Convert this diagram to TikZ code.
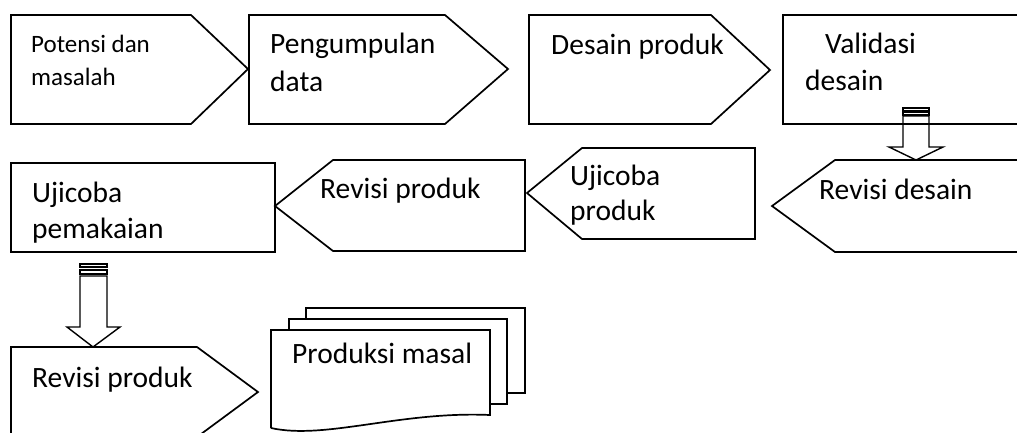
\documentclass[tikz,border=0pt]{standalone}
\usepackage{fontspec}
\setmainfont{Carlito}
\begin{document}
\begin{tikzpicture}[x=1pt,y=-1pt,
  shp/.style={draw=black, line width=1.7pt, line join=miter},
  arr/.style={draw=black, line width=1.4pt, line join=miter},
  lbl/.style={inner sep=0pt, anchor=base west, font=\fontsize{29.5}{34}\selectfont},
  lblsm/.style={inner sep=0pt, anchor=base west, font=\fontsize{25}{30}\selectfont}]
\useasboundingbox (0,0) rectangle (1017,432);
\begin{scope}
\clip (0,0) rectangle (1017,432);
% row 1
\draw[shp] (11,15) -- (191,15) -- (248,69) -- (191,124) -- (11,124) -- cycle;
\draw[shp] (249,15) -- (445,15) -- (508,69) -- (445,124) -- (249,124) -- cycle;
\draw[shp] (529,15) -- (711,15) -- (770,70) -- (711,124) -- (529,124) -- cycle;
\draw[shp] (1030,15) -- (783,15) -- (783,124) -- (1030,124);
% row 2
\draw[shp] (11,163) rectangle (275,252);
\draw[shp] (275,206) -- (333,160) -- (525,160) -- (525,251) -- (333,251) -- cycle;
\draw[shp] (527,193) -- (582,148) -- (755,148) -- (755,239) -- (582,239) -- cycle;
\draw[shp] (1030,160) -- (835,160) -- (772,206) -- (835,252) -- (1030,252);
% row 3
\draw[shp] (11,445) -- (11,347) -- (197,347) -- (258,392) -- (197,437) -- (11,437);
\draw[shp] (306,319) -- (306,308) -- (525,308) -- (525,393) -- (507,393);
\draw[shp] (289,330) -- (289,319) -- (507,319) -- (507,404) -- (490,404);
\draw[shp] (271,428) -- (271,330) -- (490,330) -- (490,415)
  .. controls (400,411) and (325,440) .. (271,428);
% block arrows
\draw[arr] (903,108) rectangle (929,111);
\draw[arr] (903,112.5) rectangle (929,115);
\draw[arr] (903,116) -- (903,147) -- (889,147) -- (916,160) -- (943,147) -- (929,147) -- (929,116) -- cycle;
\draw[arr] (80,264) rectangle (107,267);
\draw[arr] (80,270) rectangle (107,274);
\draw[arr] (80,276) -- (80,327) -- (67,327) -- (93,347) -- (120,327) -- (107,327) -- (107,276) -- cycle;
\end{scope}
% labels
\node[lblsm] (t1a) at (31,52) {Potensi dan};
\node[lblsm] (t1b) at (31,85) {masalah};
\node[lbl] (t2a) at (270,53) {Pengumpulan};
\node[lbl] (t2b) at (270,91) {data};
\node[lbl] (t3) at (551,54) {Desain produk};
\node[lbl] (t4a) at (825,53) {Validasi};
\node[lbl] (t4b) at (805,90) {desain};
\node[lbl] (t5a) at (32,202) {Ujicoba};
\node[lbl] (t5b) at (32,238) {pemakaian};
\node[lbl] (t6) at (320,198) {Revisi produk};
\node[lbl] (t7a) at (570,185) {Ujicoba};
\node[lbl] (t7b) at (570,220) {produk};
\node[lbl] (t8) at (819,199) {Revisi desain};
\node[lbl] (t9) at (32,387) {Revisi produk};
\node[lbl] (t10) at (292,363) {Produksi masal};
\end{tikzpicture}
\end{document}
